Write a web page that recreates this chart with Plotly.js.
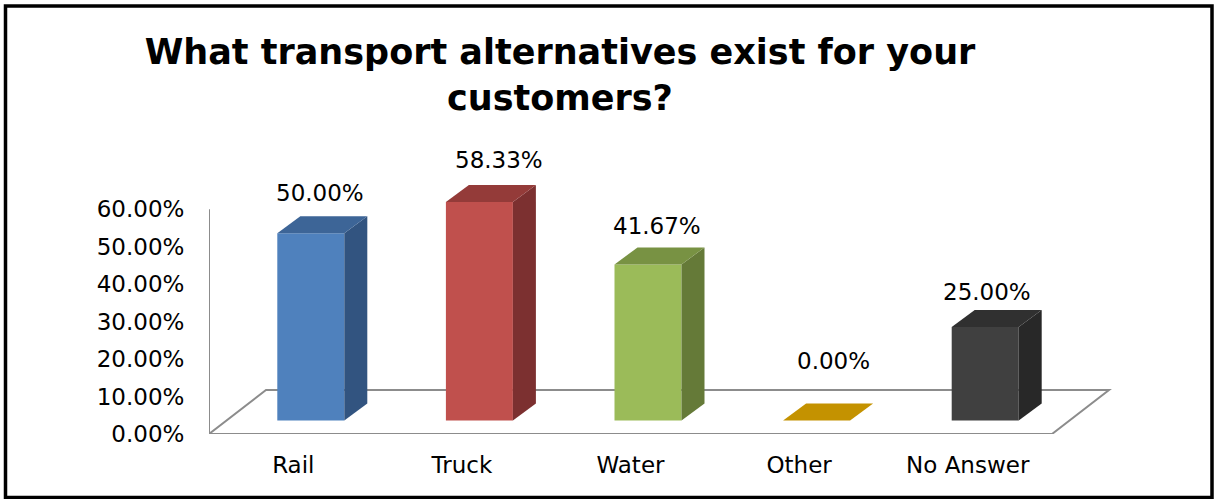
<!DOCTYPE html>
<html>
<head>
<meta charset="utf-8">
<script src="https://cdn.plot.ly/plotly-3.0.1.min.js"></script>
<style>
  html, body { margin: 0; padding: 0; background: #ffffff; }
  #chart { width: 1214px; height: 499px; }
</style>
</head>
<body>
<div id="chart"></div>
<script>
// ---------- data ----------
const categories = ['Rail', 'Truck', 'Water', 'Other', 'No Answer'];
const values = [0.5000, 0.5833, 0.4167, 0.0000, 0.2500];
const yTickValues = [0, 0.1, 0.2, 0.3, 0.4, 0.5, 0.6];

// ---------- style ----------
const frontColors = ['#4F81BD', '#C0504D', '#9BBB59', '#C49200', '#404040'];
const topColors   = ['#3D6597', '#943B39', '#789243', '#C49200', '#303030'];
const sideColors  = ['#325480', '#7C3030', '#657A38', '#A07700', '#282828'];
// label offsets in pixels (horizontal from bar centre, vertical above bar back-top edge)
const labelDx = [9.5, 19.5, 8.5, 16.5, 2];
const labelDy = [23.5, 25.5, 21, 43, 18];

const W = 1214, H = 499;
const M = { l: 209, r: 54, t: 150, b: 65 };
const pxPerX = 168.6;   // pixels per category step
const pxPerY = 374.5;   // pixels per 100%
const plotW = W - M.l - M.r, plotH = H - M.t - M.b;

// 3D projection helpers (pixel offsets converted to data units)
const floorDepth = { dx: 57 / pxPerX, dy: 44 / pxPerY };
const frontOff   = { dx: 17.5 / pxPerX, dy: 13.5 / pxPerY };
const barDepth   = { dx: 23 / pxPerX, dy: 17 / pxPerY };
const barW = 67 / pxPerX;

const n = categories.length;
const idx = categories.map((_, i) => i);

const traces = [];
// front faces
traces.push({
  type: 'bar',
  x: idx.map(i => i + frontOff.dx),
  y: values,
  base: values.map(() => frontOff.dy),
  width: barW,
  marker: { color: frontColors, line: { width: 0 } },
  hoverinfo: 'skip',
  showlegend: false
});
// side and top faces
values.forEach((v, i) => {
  const xl = i + frontOff.dx - barW / 2;
  const xr = i + frontOff.dx + barW / 2;
  const b = frontOff.dy;
  traces.push({
    type: 'scatter', mode: 'lines', fill: 'toself',
    x: [xr, xr, xr + barDepth.dx, xr + barDepth.dx, xr],
    y: [b, b + v, b + v + barDepth.dy, b + barDepth.dy, b],
    line: { width: 0, color: sideColors[i] }, fillcolor: sideColors[i],
    hoverinfo: 'skip', showlegend: false
  });
  traces.push({
    type: 'scatter', mode: 'lines', fill: 'toself',
    x: [xl, xr, xr + barDepth.dx, xl + barDepth.dx, xl],
    y: [b + v, b + v, b + v + barDepth.dy, b + v + barDepth.dy, b + v],
    line: { width: 0, color: topColors[i] }, fillcolor: topColors[i],
    hoverinfo: 'skip', showlegend: false
  });
});

const annotations = values.map((v, i) => ({
  x: i + frontOff.dx + labelDx[i] / pxPerX,
  y: v + frontOff.dy + barDepth.dy,
  xref: 'x', yref: 'y',
  text: (v * 100).toFixed(2) + '%',
  showarrow: false,
  xanchor: 'center', yanchor: 'middle',
  yshift: labelDy[i],
  font: { family: 'DejaVu Sans', size: 23, color: '#000000' }
}));

const x0 = -0.5, x1 = n - 0.5;
const yMax = Math.max(...yTickValues);
const px2paperX = px => (px - M.l) / plotW;
const px2paperY = py => (H - M.b - py) / plotH;

const shapes = [
  // floor
  {
    type: 'path', xref: 'x', yref: 'y', layer: 'below',
    path: `M ${x0},0 L ${x0 + floorDepth.dx},${floorDepth.dy} L ${x1 + floorDepth.dx},${floorDepth.dy} L ${x1},0 Z`,
    line: { color: '#8C8C8C', width: 2 }, fillcolor: 'rgba(0,0,0,0)'
  },
  // vertical axis line
  {
    type: 'line', xref: 'x', yref: 'y', layer: 'below',
    x0: x0, x1: x0, y0: 0, y1: yMax,
    line: { color: '#8C8C8C', width: 2 }
  },
  // outer frame
  {
    type: 'rect', xref: 'paper', yref: 'paper',
    x0: px2paperX(5.5), x1: px2paperX(1212), y0: px2paperY(497.5), y1: px2paperY(6),
    line: { color: '#000000', width: 3.5 }, fillcolor: 'rgba(0,0,0,0)'
  }
];

const layout = {
  width: W, height: H,
  margin: M,
  paper_bgcolor: '#ffffff', plot_bgcolor: 'rgba(0,0,0,0)',
  showlegend: false,
  hovermode: false,
  title: {
    text: 'What transport alternatives exist for your<br>customers?',
    font: { family: 'DejaVu Sans', size: 35, weight: 'bold', color: '#000000' },
    x: 560 / W, xanchor: 'center', xref: 'container',
    y: 1 - 64 / H, yanchor: 'top', yref: 'container'
  },
  xaxis: {
    range: [x0, x0 + plotW / pxPerX],
    tickvals: idx, ticktext: categories,
    showgrid: false, zeroline: false, showline: false,
    ticks: 'outside', ticklen: 10, tickcolor: 'rgba(0,0,0,0)',
    tickfont: { family: 'DejaVu Sans', size: 23, color: '#000000' },
    fixedrange: true
  },
  yaxis: {
    range: [0, plotH / pxPerY],
    tickvals: yTickValues, tickformat: '.2%',
    showgrid: false, zeroline: false, showline: false,
    ticks: 'outside', ticklen: 19, tickcolor: 'rgba(0,0,0,0)',
    tickfont: { family: 'DejaVu Sans', size: 23, color: '#000000' },
    fixedrange: true
  },
  shapes: shapes,
  annotations: annotations
};

Plotly.newPlot('chart', traces, layout, { staticPlot: true, displayModeBar: false });
</script>
</body>
</html>
